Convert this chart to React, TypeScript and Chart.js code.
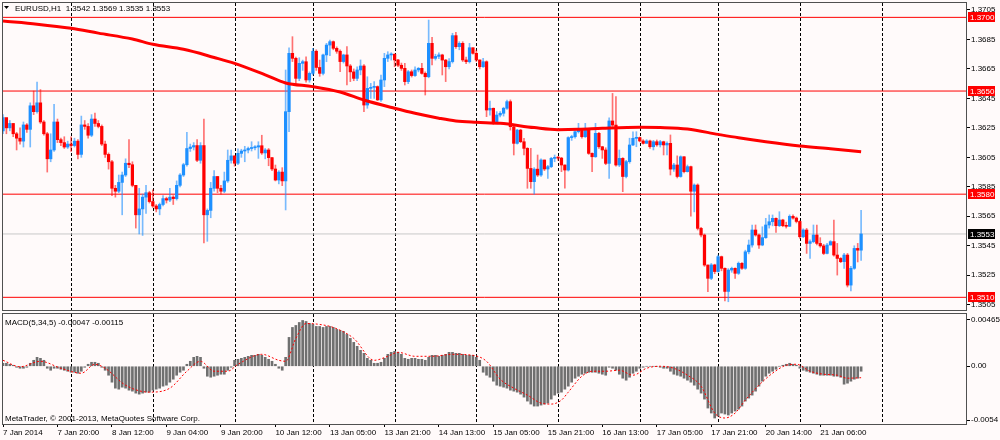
import React, { useEffect, useRef } from "react";
import { Chart, registerables } from "chart.js";

Chart.register(...registerables);

const FONT = "'Liberation Sans', Arial, sans-serif";
const BG = "#FFFAFA";

// ---------- price data (pips above BASE) ----------
const BASE = 1.35;
const PIP = 0.0001;
const FIRST_OPEN = 123;
const CLOSE = [
  132,125,128,121,118,116,127,124,140,136,
  142,129,121,104,110,129,117,115,112,114,
  113,116,107,127,126,120,131,128,126,114,
  107,102,84,82,88,93,101,100,86,66,
  70,78,81,75,72,70,73,77,76,78,
  77,86,93,100,111,112,113,103,113,66,
  69,84,92,84,82,89,103,106,101,107.7,
  109.3,110,111,111.5,112,112.9,108,110,104.8,97.1,
  89.6,95,89,136,175.6,172.2,158.6,168.8,169.9,157.5,
  162,177,166,162,174.5,181.2,183.5,179,177,170,
  174.5,167,163,158.6,164.3,167,140.5,151.8,152.5,153,
  144,157.5,172.2,174.5,175,171.1,167.5,165.4,156.4,163.1,
  160.5,164.3,165.4,162,159.7,182.4,172.2,173.5,174.5,171,
  166.5,170,187.6,180.1,182.4,171.1,169.9,179.4,175.6,171.1,
  166.5,169.9,137.1,138.3,129.2,133.7,134.9,138.3,142.8,125.8,
  114.5,123.5,115.6,111.1,97.5,88.5,97,93,103.2,97.1,
  98.7,104.3,104.8,104.5,99.8,96.4,118.4,119,122.4,123.5,
  119,123.5,107.7,105.4,121.3,112.2,110,100.9,129.7,126.9,
  99.8,104.3,92,102.1,113.4,117.9,118.4,116.1,114.5,116.1,
  112.2,115.6,113.5,115.6,113.4,114.5,97,99.8,92,105.4,
  95.3,98.7,82,86.2,56.8,52.3,31.9,22.9,32,27.5,
  37.6,29.7,14,28.5,29.7,26.3,33.1,29.7,40.9,45.5,
  55.7,52.3,45.5,50.5,59.1,61.3,63.6,58.6,62.5,58.6,
  58.2,65,63.8,61.5,51.1,55.7,46.6,47.8,52.3,46.6,
  44.9,39.8,45.5,47.8,38.7,36.4,34.2,38.7,18.3,29.7,
  43.2,42,53,
];
const HIGH = [
  134,129,130,128,122,125,129,128,142,150,
  156,151,130,122,121,141,131,118,119,116,
  119,118,117,133,130,128,134,135,130,127,
  116,108,103,86,93,95,104,117,102,86,
  84,80,86,82,83,73,74,79,78,84,
  79,89,94,101,122,114,115,117,115,131,
  70,88,96,92,86,95,110,110,106,110.7,
  110.5,112.5,112,115.6,113,115.6,120,111,111,105,
  99.8,96,98,164.3,179.4,186.9,173,172.6,171,173.3,
  163,179,178,171,175,182.4,184.6,184,180,178,
  175,180.1,168,165,166.5,171.1,168,159.7,155.2,156.4,
  153.5,160.9,175.6,176.7,176,175.2,171.5,169,168.8,164,
  164.3,166.5,166,168.8,163,198.2,186.5,175,176,175,
  171.5,172,189.2,189.8,183.5,183.5,173,182.4,179.4,177.8,
  171.1,172.2,170.5,143.2,138.5,136,136,139,143.9,144,
  126.5,124,124,117.9,111.6,111.1,98,106.6,104,103.2,
  99.5,105,106.6,105.5,105,100,119,120,123,128.1,
  124,128.1,123.5,108,128.1,122,112.5,111.5,131.9,148.4,
  146.2,110,104.8,103,118,122.4,122.4,118.8,117,117,
  116.8,116.5,116.8,116.5,116,115.5,120.2,101,106,106,
  105.5,99.8,99,87,87,57.5,53,32,33,32.5,
  38.7,38,30,29.5,30.5,30,34,33.5,42,48.9,
  59.1,59.1,53,57.9,63.6,65.9,65.9,64,68.1,63,
  61,66,66,64.5,62,56.5,56.8,49,59.1,59.1,
  50.5,46,46.6,48.5,62.5,46.6,37,39.8,39.8,31,
  45,46.6,69,
];
const LOW = [
  121,121,123,119,110,114,112,122,112,134,
  135,128,120,95,102,109,115,113,111,111,
  109,112,104,105,124,118,119,126,125,113,
  105,97,79,78,81,66,92,98,85,57,
  53,52,67,74,71,68,66,72,74,75,
  73,76,85,92,99,109,110,102,101,47,
  48,64,82,81,80,81,88,101,99,100,
  105,102,108,109.3,110,104.3,107,104,99.3,96,
  89,87,85.8,69.3,122.4,170,155.2,157,164,156,
  156,161,164,160,161,169.9,174,178,175.6,163.1,
  169,154.1,156.4,157,157,161,136,138.3,145,145,
  143.5,143,153,170,171,166.5,166.5,164,154.1,155,
  159.5,160,163,161.5,147.3,159,167.7,171,172,160.9,
  156.4,165,169,179,178,170,168.5,169,175,170,
  165,166,132.6,133.7,127.4,128.5,132.5,133,137.5,123.5,
  106.6,114,115,106.6,84,84,80,92,92,96,
  90.7,98,102,103,95.3,84,95.7,116.5,118,121.5,
  118,118.5,107,95.3,105,111,104.3,100,90.7,126,
  99,98.7,81.7,91,101,113,112.2,115.5,114,114.5,
  111,110,112.5,112,106.6,106.6,93,95.5,91,91.5,
  94.5,95,65,68,55.7,51,31,13.8,22,26,
  27,28,7.5,7,27,22.9,25.5,29,29,39.5,
  44,51.5,43.2,45,50,57,58.5,54,58,57.9,
  57,58,63,60.5,50,50.5,39.8,36.4,47,45.5,
  44,39,39.5,45.5,38,25.1,33.5,29.7,17,14.3,
  29,34,35,
];

// moving average (read at knots)
const MA_BARS = [0,10,20,28,38,44,53,62,68,77,83,91,99,106,115,121,128,133,139,146,156,163,169,176,187,193,201,210,216,224,234,243,252];
const MA_PIPS = [197.5,195.4,192.6,189.3,185.3,181.7,178.3,172.8,168.8,161,155.5,153,149.3,143.9,138.3,134.9,131.6,129.7,128.8,128.1,125.2,123.8,124,124.7,125.4,125.2,124.2,120.6,118.3,115.6,112.7,110.8,108.8];

// MACD main (histogram), units of 0.0001
const MACD_MAIN = [
  3,3,2,1,-1,-2,-2,-1,
  3,6,9,8,6,
  -2,-4,-2,
  -2,-3,-4,-5,-6,-6,-7,-5,
  -1,2,4,4,3,-1,
  -4,-9,-16,-22,-23,-21,-22,-24,-25,-27,-28,-27,-26,-26,
  -24,-23,-22,-20,-19,-16,-13,-9,-6,-4,
  2,5,9,10,9,-2,
  -10,-11,-10,-9,-8,-8,-4,-1,
  6,7,8,9,10,11,11,12,11,9,7,5,2,-2,-4,
  9,29,39,41,44,46,45,43,42,40,40,39,40,40,39,37,36,35,32,28,24,20,16,13,8,6,3,3,
  4,8,12,14,15,14,12,8,7,8,8,7,7,6,9,11,11,10,11,12,14,14,13,13,12,11,11,11,9,6,
  -6,-9,-11,-15,-19,
  -20,-21,-22,-24,-25,-26,-28,-31,-35,-38,-40,-40,-39,-38,-37,-33,-29,-27,-26,-23,-20,-16,-12,-10,-8,
  -7,-6,-6,-6,-7,-8,-9,-1,-2,-4,-8,-12,-14,-11,-7,-5,-2,-1,0,0,
  0,0,-1,-2,-2,-5,-8,-9,-10,-12,-14,-16,-19,-23,-27,-33,-42,-47,-52,-50,
  -47,-48,-49,-47,-45,-43,-40,-35,-32,-29,-25,-20,-15,-10,-7,-5,-3,0,1,2,
  3,2,1,-2,-4,-5,-6,-7,-8,-9,-9,-9,-9,-10,-10,-11,-18,-17,-15,-13,-12,-5,
];
const SIGNAL_BARS = [0,5,11,17,23,27,30,36,43,49,54,58,62,66,69,76,81,83,86,89,93,97,103,109,113,116,121,126,132,138,142,146,150,154,158,161,164,166,170,173,177,181,185,189,193,197,201,205,209,212,215,218,222,226,230,233,237,241,245,248,252];
const SIGNAL_VALUES = [6,-0.5,5,-2,-7,2,-2,-19,-26,-22,-5,5,-5,-5,2,12,6,5,28,43,42,39,28,6,10,14,10,10,12,11,5,-13,-22,-29,-37,-38,-34,-26,-10,-5,-5,-4,-9,-2,0,-2,-9,-20,-47,-52,-47,-34,-19,-7,1,2,-5,-8,-9,-12,-11.5];

// ---------- axes / annotations ----------
const GRID_BARS = [20,44,68,91,115,139,163,187,210,234,258];
const LABEL_BARS = [0,16,32,48,64,80,96,112,128,144,160,176,192,208,224,240];
const TIME_LABELS = ["7 Jan 2014","7 Jan 20:00","8 Jan 12:00","9 Jan 04:00","9 Jan 20:00","10 Jan 12:00","13 Jan 05:00","13 Jan 21:00","14 Jan 13:00","15 Jan 05:00","15 Jan 21:00","16 Jan 13:00","17 Jan 05:00","17 Jan 21:00","20 Jan 14:00","21 Jan 06:00"];
const PRICE_TICKS = [1.3705,1.3685,1.3665,1.3645,1.3625,1.3605,1.3585,1.3565,1.3545,1.3525,1.3505];
const LEVELS = [1.37,1.365,1.358,1.351];
const LAST_PRICE = 1.3553;
const MACD_TICKS = [46.5,0,-54];
const MACD_TICK_LABELS = ["0.00465","0.00","-0.0054"];
const TITLE = "EURUSD,H1  1.3542 1.3569 1.3535 1.3553";
const MACD_TITLE = "MACD(5,34,5) -0.00047 -0.00115";
const COPYRIGHT = "MetaTrader, \u00A9 2001-2013, MetaQuotes Software Corp.";

const X_MIN = 0;
const X_MAX = 282.8;
const Y_MIN = 1.35014;
const Y_MAX = 1.370975;
const M_MIN = -58;
const M_MAX = 52.5;

const price = (p: number) => BASE + p * PIP;

function drawGrid(chart: any) {
  const { ctx, chartArea: a, scales } = chart;
  const x = scales.x;
  ctx.save();
  ctx.beginPath();
  ctx.rect(a.left, a.top, a.right - a.left, a.bottom - a.top);
  ctx.clip();
  ctx.strokeStyle = "#000";
  ctx.lineWidth = 1;
  ctx.setLineDash([3, 2]);
  GRID_BARS.forEach((b) => {
    const px = Math.round(x.getPixelForValue(b)) + 0.5;
    ctx.beginPath();
    ctx.moveTo(px, a.top);
    ctx.lineTo(px, a.bottom);
    ctx.stroke();
  });
  ctx.restore();
}

function drawBorder(chart: any) {
  const { ctx, chartArea: a } = chart;
  ctx.save();
  ctx.strokeStyle = "#505050";
  ctx.lineWidth = 1;
  ctx.strokeRect(Math.round(a.left) - 0.5, Math.round(a.top) - 0.5, Math.round(a.right - a.left) + 1, Math.round(a.bottom - a.top) + 1);
  ctx.restore();
}

const mainPlugin = {
  id: "mainPanel",
  beforeDatasetsDraw(chart: any) {
    drawGrid(chart);
  },
  afterDraw(chart: any) {
    const { ctx } = chart;
    const y = chart.scales.y;
    drawBorder(chart);
    ctx.save();
    ctx.font = `8px ${FONT}`;
    ctx.textBaseline = "middle";
    ctx.fillStyle = "#000";
    ctx.beginPath();
    ctx.moveTo(4, 6);
    ctx.lineTo(9, 6);
    ctx.lineTo(6.5, 9);
    ctx.closePath();
    ctx.fill();
    ctx.fillText(TITLE, 15, 9);
    const box = (v: number, color: string) => {
      const py = Math.round(y.getPixelForValue(v));
      ctx.fillStyle = color;
      ctx.fillRect(968, py - 5, 27, 10);
      ctx.fillStyle = "#fff";
      ctx.fillText(v.toFixed(4), 970, py + 0.5);
    };
    LEVELS.forEach((v) => box(v, "#FF0000"));
    box(LAST_PRICE, "#000");
    ctx.restore();
  },
};

const macdPlugin = {
  id: "macdPanel",
  beforeDatasetsDraw(chart: any) {
    drawGrid(chart);
  },
  afterDraw(chart: any) {
    const { ctx } = chart;
    drawBorder(chart);
    ctx.save();
    ctx.font = `8px ${FONT}`;
    ctx.textBaseline = "middle";
    ctx.fillStyle = "#000";
    ctx.fillText(MACD_TITLE, 5, 10.5);
    ctx.fillText(COPYRIGHT, 5, 106.5);
    ctx.restore();
  },
};

function mainConfig(): any {
  const opens = CLOSE.map((c, i) => (i === 0 ? FIRST_OPEN : CLOSE[i - 1]));
  const up = CLOSE.map((c, i) => c >= opens[i]);
  const bodyColors = up.map((u) => (u ? "#1E90FF" : "#FF0000"));
  const wickColors = up.map((u) => (u ? "rgba(30,144,255,0.6)" : "rgba(255,0,0,0.55)"));
  const hline = (v: number, color: string, order: number) => ({
    type: "line",
    data: [{ x: X_MIN - 1, y: v }, { x: X_MAX + 1, y: v }],
    borderColor: color,
    borderWidth: 1,
    pointRadius: 0,
    order,
  });
  return {
    type: "bar",
    data: {
      datasets: [
        ...LEVELS.map((v) => hline(v, "#FF0000", 9)),
        hline(LAST_PRICE, "#C8C8C8", 9),
        {
          type: "bar",
          data: CLOSE.map((c, i) => ({ x: i, y: [price(LOW[i]), price(HIGH[i])] })),
          backgroundColor: wickColors,
          barThickness: 1,
          minBarLength: 1,
          grouped: false,
          order: 3,
        },
        {
          type: "bar",
          data: CLOSE.map((c, i) => ({ x: i, y: [price(opens[i]), price(c)] })),
          backgroundColor: bodyColors,
          barThickness: 2.6,
          minBarLength: 1,
          grouped: false,
          order: 2,
        },
        {
          type: "line",
          data: MA_BARS.map((b, i) => ({ x: b, y: price(MA_PIPS[i]) })),
          borderColor: "#FF0000",
          borderWidth: 3,
          pointRadius: 0,
          cubicInterpolationMode: "monotone",
          order: 0,
        },
      ],
    },
    options: {
      animation: false,
      responsive: false,
      devicePixelRatio: 1,
      events: [],
      layout: { padding: { left: 3, top: 3, right: 0, bottom: 2 }, autoPadding: false },
      plugins: { legend: { display: false }, tooltip: { enabled: false }, title: { display: false } },
      scales: {
        x: { type: "linear", min: X_MIN, max: X_MAX, display: false, offset: false },
        y: {
          type: "linear",
          position: "right",
          min: Y_MIN,
          max: Y_MAX,
          afterBuildTicks: (s: any) => {
            s.ticks = PRICE_TICKS.map((v) => ({ value: v }));
          },
          afterFit: (s: any) => {
            s.width = 34;
            s.paddingTop = 0;
            s.paddingBottom = 0;
          },
          ticks: {
            autoSkip: false,
            padding: 1,
            color: "#000",
            font: { family: FONT, size: 8 },
            callback: (v: any) => Number(v).toFixed(4),
          },
          grid: { drawOnChartArea: false, drawTicks: true, tickLength: 4, tickColor: "#000" },
          border: { display: false },
        },
      },
    },
    plugins: [mainPlugin],
  };
}

function macdConfig(): any {
  return {
    type: "bar",
    data: {
      datasets: [
        {
          type: "bar",
          data: MACD_MAIN.map((v, i) => ({ x: i, y: v })),
          backgroundColor: "#707070",
          barThickness: 2,
          grouped: false,
          order: 2,
        },
        {
          type: "line",
          data: SIGNAL_BARS.map((b, i) => ({ x: b, y: SIGNAL_VALUES[i] })),
          borderColor: "#FF0000",
          borderWidth: 1,
          borderDash: [2, 2],
          pointRadius: 0,
          cubicInterpolationMode: "monotone",
          order: 1,
        },
      ],
    },
    options: {
      animation: false,
      responsive: false,
      devicePixelRatio: 1,
      events: [],
      layout: { padding: { left: 3, top: 2, right: 0, bottom: 0 }, autoPadding: false },
      plugins: { legend: { display: false }, tooltip: { enabled: false }, title: { display: false } },
      scales: {
        x: {
          type: "linear",
          min: X_MIN,
          max: X_MAX,
          offset: false,
          position: "bottom",
          afterBuildTicks: (s: any) => {
            s.ticks = LABEL_BARS.map((v) => ({ value: v }));
          },
          afterFit: (s: any) => {
            s.height = 16;
            s.paddingLeft = 0;
            s.paddingRight = 0;
          },
          ticks: {
            autoSkip: false,
            maxRotation: 0,
            minRotation: 0,
            align: "start",
            padding: 1,
            color: "#000",
            font: { family: FONT, size: 8 },
            callback: (v: any) => {
              const k = LABEL_BARS.indexOf(Number(v));
              return k >= 0 ? TIME_LABELS[k] : "";
            },
          },
          grid: { drawOnChartArea: false, drawTicks: true, tickLength: 3, tickColor: "#000", offset: false },
          border: { display: false },
        },
        y: {
          type: "linear",
          position: "right",
          min: M_MIN,
          max: M_MAX,
          afterBuildTicks: (s: any) => {
            s.ticks = MACD_TICKS.map((v) => ({ value: v }));
          },
          afterFit: (s: any) => {
            s.width = 34;
            s.paddingTop = 0;
            s.paddingBottom = 0;
          },
          ticks: {
            autoSkip: false,
            padding: 1,
            color: "#000",
            font: { family: FONT, size: 8 },
            callback: (v: any) => {
              const k = MACD_TICKS.indexOf(Number(v));
              return k >= 0 ? MACD_TICK_LABELS[k] : "";
            },
          },
          grid: { drawOnChartArea: false, drawTicks: true, tickLength: 4, tickColor: "#000" },
          border: { display: false },
        },
      },
    },
    plugins: [macdPlugin],
  };
}

export default function App() {
  const mainRef = useRef<HTMLCanvasElement>(null);
  const macdRef = useRef<HTMLCanvasElement>(null);
  useEffect(() => {
    const main = new Chart(mainRef.current as HTMLCanvasElement, mainConfig());
    const macd = new Chart(macdRef.current as HTMLCanvasElement, macdConfig());
    return () => {
      main.destroy();
      macd.destroy();
    };
  }, []);
  return (
    <div style={{ position: "absolute", left: 0, top: 0, width: 1000, height: 440, background: BG, overflow: "hidden" }}>
      <canvas ref={mainRef} width={1000} height={312} style={{ position: "absolute", left: 0, top: 0 }} />
      <canvas ref={macdRef} width={1000} height={128} style={{ position: "absolute", left: 0, top: 312 }} />
    </div>
  );
}
